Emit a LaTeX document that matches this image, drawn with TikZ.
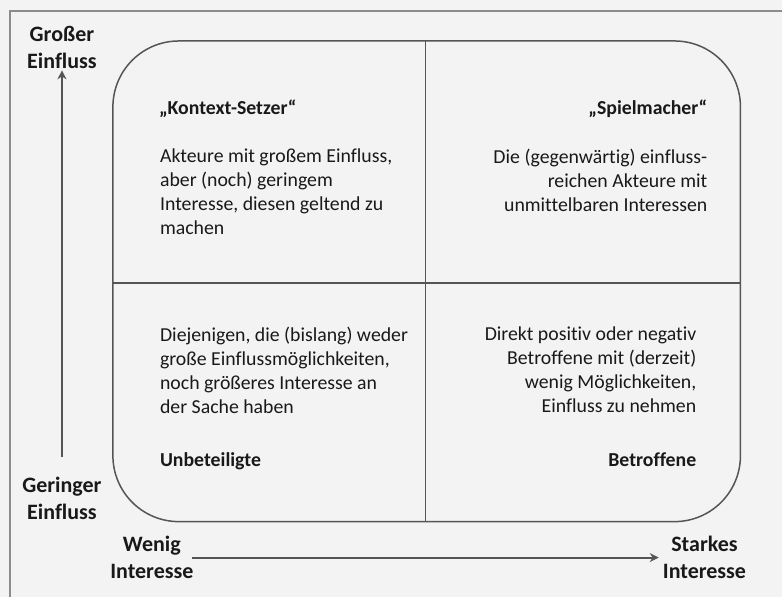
\documentclass[tikz,border=0pt]{standalone}
\usepackage{fontspec}
\setmainfont{Carlito}[Ligatures=NoCommon]
\usetikzlibrary{arrows.meta}
\definecolor{bggray}{HTML}{F3F3F3}
\definecolor{framegray}{HTML}{8C8C8C}
\definecolor{linegray}{HTML}{555555}
\tikzset{
	quadtext/.style={
			inner sep=0pt,
			text=black!90,
			font=\fontsize{19.8}{24}\selectfont
		},
	headtext/.style={
			quadtext,
			font=\fontsize{19.8}{24}\selectfont\bfseries
		},
	axislabel/.style={
			inner sep=0pt,
			align=center,
			text=black!90,
			font=\fontsize{22}{27}\selectfont\bfseries
		},
	axisarrow/.style={
			draw=linegray,
			line width=2pt,
			-{Stealth[length=9pt,width=9pt]}
		}
}

\begin{document}
\begin{tikzpicture}[x=1pt, y=-1pt]

  % background and frame
  \fill[bggray] (0,0) rectangle (783,597);
  \draw[framegray, line width=1.2pt] (10,597) -- (10,11) -- (783,11);
  \useasboundingbox (0,0) rectangle (783,597);

  % matrix box
  \draw[linegray, line width=1.5pt, rounded corners=66pt] (113,41) rectangle (741,522);
  \coordinate (top) at (426,41);
  \coordinate (bot) at (426,522);
  \coordinate (lft) at (113,283);
  \coordinate (rgt) at (741,283);
  \draw[linegray, line width=1.5pt] (top) -- (bot);
  \draw[linegray, line width=1.5pt] (lft) -- (rgt);

  % quadrants
  \node[headtext, anchor=north west] (h1) at (159,100) {„Kontext-Setzer“};
  \node[quadtext, anchor=north west, align=left] (t1) at (160,149)
    {Akteure mit großem Einfluss,\\aber (noch) geringem\\Interesse, diesen geltend zu\\machen};
  \node[headtext, anchor=north east] (h2) at (708,100) {„Spielmacher“};
  \node[quadtext, anchor=north east, align=right] (t2) at (708,149)
    {Die (gegenwärtig) einfluss-\\reichen Akteure mit\\unmittelbaren Interessen};
  \node[quadtext, anchor=north west, align=left] (t3) at (160,327)
    {Diejenigen, die (bislang) weder\\große Einflussmöglichkeiten,\\noch größeres Interesse an\\der Sache haben};
  \node[headtext, anchor=north west] (h3) at (160,453) {Unbeteiligte};
  \node[quadtext, anchor=north east, align=right] (t4) at (697,327)
    {Direkt positiv oder negativ\\Betroffene mit (derzeit)\\wenig Möglichkeiten,\\Einfluss zu nehmen};
  \node[headtext, anchor=north east] (h4) at (697,453) {Betroffene};

  % axes
  \node[axislabel] (hi) at (62,47) {Großer\\Einfluss};
  \node[axislabel] (lo) at (62,499) {Geringer\\Einfluss};
  \node[axislabel] (wi) at (152,558) {Wenig\\Interesse};
  \node[axislabel] (si) at (705,558) {Starkes\\Interesse};
  \draw[axisarrow, shorten <=20pt, shorten >=2pt] (lo.north) -- (hi.south);
  \draw[axisarrow, shorten <=-2pt, shorten >=4pt] (wi.east) -- (si.west);

\end{tikzpicture}
\end{document}
